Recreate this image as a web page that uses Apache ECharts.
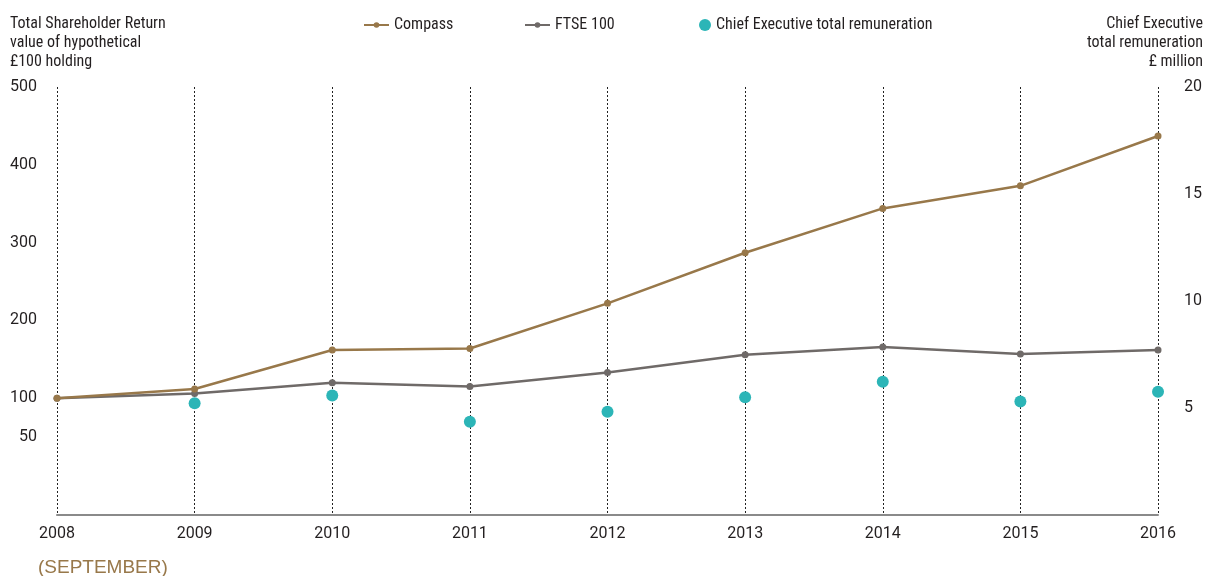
<!DOCTYPE html>
<html>
<head>
<meta charset="utf-8">
<script src="https://cdn.jsdelivr.net/npm/echarts@6/dist/echarts.min.js"></script>
<style>
html,body{margin:0;padding:0;background:#fff;}
#chart{width:1205px;height:576px;}
</style>
</head>
<body>
<div id="chart"></div>
<script>
var years = ['2008','2009','2010','2011','2012','2013','2014','2015','2016'];
var compass = [100, 112, 162, 164, 222, 287, 344, 373, 437];
var ftse = [100, 106, 120, 115, 133, 156, 166, 157, 162];
var ceoPay = [null, 5.22, 5.58, 4.36, 4.83, 5.50, 6.23, 5.30, 5.76];
var leftTicks = [50, 100, 200, 300, 400, 500];
var rightTicks = [5, 10, 15, 20];

var FONT = '"Roboto Condensed", "Liberation Sans Narrow", Roboto, sans-serif';
var NUMFONT = 'Roboto, "Liberation Sans", sans-serif';
var TXT = '#231f20';
var BROWN = '#98784a', GREY = '#6f6a68', TEAL = '#2cb5b7';

var chart = echarts.init(document.getElementById('chart'));
var legendBase = {
  top: 17, padding: 0, itemWidth: 25, itemHeight: 7, itemGap: 0,
  textStyle: {fontFamily: FONT, fontSize: 16, color: TXT, padding: [0,0,0,0]},
  selectedMode: false
};
chart.setOption({
  backgroundColor: '#ffffff',
  textStyle: {fontFamily: FONT},
  animation: false,
  grid: {left: 57, right: 46, top: 87, bottom: 61, containLabel: false},
  legend: [
    Object.assign({}, legendBase, {left: 363, data: ['Compass']}),
    Object.assign({}, legendBase, {left: 524, data: ['FTSE 100']}),
    Object.assign({}, legendBase, {left: 699, itemWidth: 12, itemHeight: 12, data: ['Chief Executive total remuneration']})
  ],
  graphic: [
    {type: 'text', x: 10, y: 14, style: {text: 'Total Shareholder Return\nvalue of hypothetical\n£100 holding', fontFamily: FONT, fontSize: 16, lineHeight: 19, fill: TXT}},
    {type: 'text', x: 1203, y: 14, style: {text: 'Chief Executive\ntotal remuneration\n£ million', align: 'right', fontFamily: FONT, fontSize: 16, lineHeight: 19, fill: TXT}},
    {type: 'text', x: 38, y: 558, style: {text: '(SEPTEMBER)', fontFamily: '"Liberation Sans", sans-serif', fontSize: 19, fill: BROWN}}
  ],
  xAxis: {
    type: 'category', data: years, boundaryGap: false,
    axisLine: {onZero: false, lineStyle: {color: '#8a8a8a', width: 2}},
    axisTick: {show: false},
    axisLabel: {color: TXT, fontSize: 16, fontFamily: NUMFONT, margin: 11},
    splitLine: {show: true, lineStyle: {type: [2, 2], color: '#222', width: 1}}
  },
  yAxis: [
    {
      type: 'value', min: -50, max: 500,
      axisLine: {show: false}, axisTick: {show: false}, splitLine: {show: false},
      axisLabel: {customValues: leftTicks, color: TXT, fontSize: 16, fontFamily: NUMFONT, margin: 20}
    },
    {
      type: 'value', min: 0, max: 20, interval: 5, position: 'right',
      axisLine: {show: false}, axisTick: {show: false}, splitLine: {show: false},
      axisLabel: {customValues: rightTicks, color: TXT, fontSize: 16, fontFamily: NUMFONT, margin: 26}
    }
  ],
  series: [
    {name: 'Compass', type: 'line', data: compass, color: BROWN, symbol: 'circle', symbolSize: 7,
     lineStyle: {width: 2.5, color: BROWN}, itemStyle: {color: BROWN}, z: 3},
    {name: 'FTSE 100', type: 'line', data: ftse, color: GREY, symbol: 'circle', symbolSize: 7,
     lineStyle: {width: 2.5, color: GREY}, itemStyle: {color: GREY}, z: 2},
    {name: 'Chief Executive total remuneration', type: 'scatter', yAxisIndex: 1, data: ceoPay,
     symbolSize: 12, itemStyle: {color: TEAL, opacity: 1}, z: 4}
  ]
});
</script>
</body>
</html>
